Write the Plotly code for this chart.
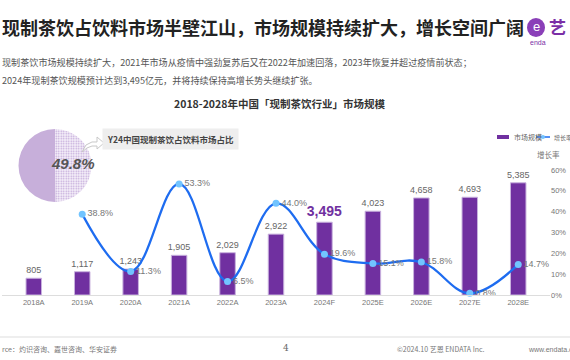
import plotly.graph_objects as go

W, H = 570, 360

categories = ["2018A", "2019A", "2020A", "2021A", "2022A", "2023A",
              "2024F", "2025E", "2026E", "2027E", "2028E"]
market_size = [805, 1117, 1243, 1905, 2029, 2922, 3495, 4023, 4658, 4693, 5385]
growth_rate = [None, 38.8, 11.3, 53.3, 6.5, 44.0, 19.6, 15.1, 15.8, 0.8, 14.7]
rate_ticks = [0, 10, 20, 30, 40, 50, 60]
rate_tick_labels = ["0%", "10%", "20%", "30%", "40%", "50%", "60%"]
pie_values = [49.8, 50.2]
pie_labels = ["现制茶饮", "其他饮料"]

CJK = "Noto Sans CJK SC"
LAT = "Liberation Sans, Noto Sans CJK SC"


def px(x):
    return x / W


def py(y):
    return 1 - y / H


bar_text = []
for c, v in zip(categories, market_size):
    s = f"{v:,}"
    bar_text.append(f"<b>{s}</b>" if c == "2024F" else s)
bar_font_size = [14 if c == "2024F" else 9 for c in categories]
bar_font_color = ["#7030a0" if c == "2024F" else "#666666" for c in categories]

rate_text = [None if r is None else f"{r:.1f}%" for r in growth_rate]

fig = go.Figure()

fig.add_trace(go.Bar(
    x=categories, y=market_size, name="市场规模",
    marker=dict(color="#7030a0", line=dict(color="#c9b2de", width=1)),
    text=bar_text, textposition="outside", cliponaxis=False,
    constraintext="none",
    textfont=dict(size=bar_font_size, color=bar_font_color, family=LAT),
    yaxis="y", hoverinfo="skip", showlegend=False,
))

fig.add_trace(go.Scatter(
    x=categories, y=growth_rate, name="增长率", yaxis="y2",
    mode="lines+markers+text",
    line=dict(color="#1e6cf0", width=2.3, shape="spline", smoothing=1.1),
    marker=dict(color="#72c4ff", size=7),
    text=rate_text, textposition="middle right",
    textfont=dict(size=9, color="#777777", family=LAT),
    cliponaxis=False, hoverinfo="skip", showlegend=False,
))

fig.add_trace(go.Pie(
    values=pie_values, labels=pie_labels, sort=False, direction="counterclockwise",
    rotation=0, textinfo="none", showlegend=False, hoverinfo="skip",
    marker=dict(colors=["#f5f0f9", "#c7afda"],
                line=dict(width=0),
                pattern=dict(shape=[".", ""], fgcolor="#bfa3d8",
                             bgcolor="#f7f3fa", size=2.5, solidity=0.35)),
    domain=dict(x=[px(18.5), px(91.5)], y=[py(202), py(129)]),
))

fig.update_layout(
    width=W, height=H,
    margin=dict(l=0, r=0, t=0, b=0, autoexpand=False),
    paper_bgcolor="white", plot_bgcolor="white",
    bargap=0.68, showlegend=False,
    font=dict(family=CJK, color="#555"),
    xaxis=dict(domain=[px(2), px(550)], type="category", automargin=False,
               showline=True, linecolor="#dddddd", linewidth=1,
               ticks="", showgrid=False,
               tickfont=dict(size=7.5, color="#777777", family=LAT)),
    yaxis=dict(domain=[py(295), py(170)], range=[0, 6000], visible=False,
               showgrid=False, automargin=False),
    yaxis2=dict(overlaying="y", side="right", range=[0, 60], automargin=False,
                tickmode="array", tickvals=rate_ticks, ticktext=rate_tick_labels,
                showgrid=False, showline=False, zeroline=False,
                tickfont=dict(size=7.5, color="#777777", family=LAT)),
)

ann = []
ann.append(dict(text="<b>现制茶饮占饮料市场半壁江山，市场规模持续扩大，增长空间广阔</b>",
                x=0, y=py(27), xanchor="left", yanchor="middle",
                font=dict(size=18, color="#222222", family=CJK)))
ann.append(dict(text="现制茶饮市场规模持续扩大，2021年市场从疫情中强劲复苏后又在2022年加速回落，2023年恢复并超过疫情前状态；",
                x=0, y=py(62), xanchor="left", yanchor="middle",
                font=dict(size=9.1, color="#555555", family=CJK)))
ann.append(dict(text="2024年现制茶饮规模预计达到3,495亿元，并将持续保持高增长势头继续扩张。",
                x=0, y=py(80), xanchor="left", yanchor="middle",
                font=dict(size=9.1, color="#555555", family=CJK)))
ann.append(dict(text="<b>2018-2028年中国「现制茶饮行业」市场规模</b>",
                x=px(279), y=py(104), xanchor="center", yanchor="middle",
                font=dict(size=10.5, color="#333333", family=CJK)))
ann.append(dict(text="<b>Y24中国现制茶饮占饮料市场占比</b>",
                x=px(170), y=py(139), xanchor="center", yanchor="middle",
                bgcolor="#eeeeee", borderpad=4,
                font=dict(size=8.5, color="#444444", family=CJK)))
ann.append(dict(text="<b><i>49.8%</i></b>",
                x=px(73), y=py(164), xanchor="center", yanchor="middle",
                font=dict(size=15, color="#555555", family=LAT)))
ann.append(dict(text="增长率", x=px(548), y=py(154), xanchor="center",
                yanchor="middle", font=dict(size=7.5, color="#777777", family=CJK)))
# manual legend
ann.append(dict(text="市场规模", x=px(512), y=py(137), xanchor="left",
                yanchor="middle", font=dict(size=7, color="#666666", family=CJK)))
ann.append(dict(text="增长率", x=px(552), y=py(137), xanchor="left",
                yanchor="middle", font=dict(size=6, color="#666666", family=CJK)))
# logo text
ann.append(dict(text="<b>艺</b>", x=px(547), y=py(27), xanchor="left",
                yanchor="middle", font=dict(size=17, color="#7b2fa6", family=CJK)))
ann.append(dict(text="enda", x=px(528), y=py(42), xanchor="left",
                yanchor="middle", font=dict(size=7, color="#7b2fa6", family=LAT)))
ann.append(dict(text="e", x=px(536), y=py(27), xanchor="center",
                yanchor="middle", font=dict(size=13, color="white", family=LAT)))
# footer
ann.append(dict(text="rce：灼识咨询、嘉世咨询、华安证券", x=0, y=py(349),
                xanchor="left", yanchor="middle",
                font=dict(size=7, color="#777777", family=CJK)))
ann.append(dict(text="4", x=px(286), y=py(348), xanchor="center", yanchor="middle",
                font=dict(size=9, color="#666666", family="DejaVu Serif")))
ann.append(dict(text="©2024.10 艺恩 ENDATA Inc.", x=px(395), y=py(349),
                xanchor="left", yanchor="middle",
                font=dict(size=7, color="#777777", family=CJK)))
ann.append(dict(text="www.endata.c", x=px(526), y=py(349),
                xanchor="left", yanchor="middle",
                font=dict(size=7, color="#777777", family=LAT)))
for a in ann:
    a.update(xref="paper", yref="paper", showarrow=False)
fig.update_layout(annotations=ann)

shapes = []
# footer separator
shapes.append(dict(type="line", xref="paper", yref="paper",
                   x0=0, x1=1, y0=py(337), y1=py(337),
                   line=dict(color="#dddddd", width=1)))
# logo badge
shapes.append(dict(type="circle", xref="paper", yref="paper",
                   x0=px(527), x1=px(545), y0=py(37), y1=py(18),
                   fillcolor="#8a3fb8", line=dict(width=0)))
# legend symbols
shapes.append(dict(type="rect", xref="paper", yref="paper",
                   x0=px(497), x1=px(509), y0=py(139), y1=py(135),
                   fillcolor="#7030a0", line=dict(width=0)))
shapes.append(dict(type="line", xref="paper", yref="paper",
                   x0=px(536), x1=px(550), y0=py(137), y1=py(137),
                   line=dict(color="#1e6cf0", width=1.5)))
shapes.append(dict(type="circle", xref="paper", yref="paper",
                   x0=px(541), x1=px(545), y0=py(139), y1=py(135),
                   fillcolor="#72c4ff", line=dict(width=0)))


def path_px(pts):
    d = "M " + " L ".join(f"{px(x):.4f},{py(y):.4f}" for x, y in pts) + " Z"
    return d


# outlined arrow from pie toward label
arrow = [(82, 152), (86, 145), (92, 142), (97, 142), (97, 137), (104, 143),
         (97, 149), (97, 146), (92, 146), (87, 148)]
shapes.append(dict(type="path", xref="paper", yref="paper", path=path_px(arrow),
                   fillcolor="white", line=dict(color="#c8c8c8", width=1)))
fig.update_layout(shapes=shapes)

fig.write_html("out.html", config={"displayModeBar": False},
               post_script="document.body.style.margin='0';document.body.style.overflow='hidden';")
